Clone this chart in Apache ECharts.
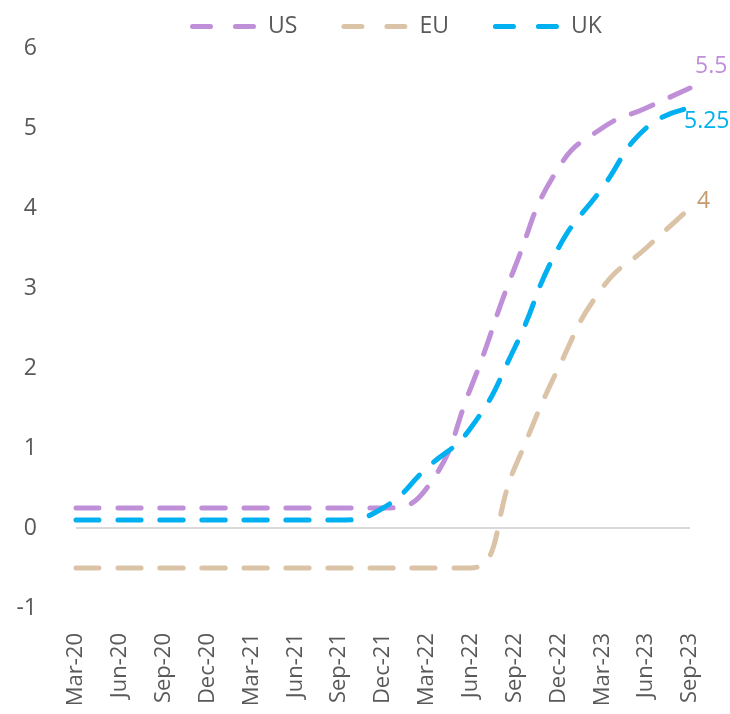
<!DOCTYPE html>
<html>
<head>
<meta charset="utf-8">
<script src="https://cdn.jsdelivr.net/npm/echarts@6/dist/echarts.min.js"></script>
<style>
  html, body { margin: 0; padding: 0; background: #fff; }
  #chart { width: 730px; height: 714px; }
</style>
</head>
<body>
<div id="chart"></div>
<script>
// Quarter-end policy rates (%)
const quarters = ['Mar-20','Jun-20','Sep-20','Dec-20','Mar-21','Jun-21','Sep-21','Dec-21',
                  'Mar-22','Jun-22','Sep-22','Dec-22','Mar-23','Jun-23','Sep-23'];
const usRates = [0.25,0.25,0.25,0.25,0.25,0.25,0.25,0.25,0.5,1.75,3.25,4.5,5.0,5.25,5.5];
const euRates = [-0.5,-0.5,-0.5,-0.5,-0.5,-0.5,-0.5,-0.5,-0.5,-0.5,0.75,2.0,3.0,3.5,4.0];
const ukRates = [0.1,0.1,0.1,0.1,0.1,0.1,0.1,0.25,0.75,1.25,2.25,3.5,4.25,5.0,5.25];
const yTicks = { min: -1, max: 6, step: 1 };

const FONT = '"Open Sans", "Noto Sans", sans-serif';
const COLORS = { US: '#bf8fd7', EU: '#dbc3a8', UK: '#00b0f0' };
const LABEL_COLORS = { US: '#bf8fd7', EU: '#c49a6c', UK: '#00b0f0' };

// Two rounded dashes, used as the legend swatch
const DASH_ICON = 'path://M2.5,0 H20.5 A2.5,2.5 0 0 1 20.5,5 H2.5 A2.5,2.5 0 0 1 2.5,0 Z ' +
                  'M45.5,0 H63.5 A2.5,2.5 0 0 1 63.5,5 H45.5 A2.5,2.5 0 0 1 45.5,0 Z';

function lineSeries(name, values, labelOffset, extra) {
  return Object.assign({
    name: name,
    type: 'line',
    smooth: true,
    symbol: 'none',
    data: values,
    lineStyle: { color: COLORS[name], width: 5, type: [23, 19], cap: 'round' },
    itemStyle: { color: COLORS[name] },
    endLabel: {
      show: true,
      distance: 0,
      offset: labelOffset,
      color: LABEL_COLORS[name],
      fontSize: 23,
      fontFamily: FONT,
      formatter: p => String(p.value)
    },
    z: 3
  }, extra || {});
}

const chart = echarts.init(document.getElementById('chart'), null, { renderer: 'canvas' });
chart.setOption({
  animation: false,
  backgroundColor: '#ffffff',
  legend: {
    top: 10,
    left: 185,
    itemWidth: 66,
    itemHeight: 5,
    itemGap: 44,
    icon: DASH_ICON,
    textStyle: { color: '#595959', fontSize: 23, fontFamily: FONT, padding: [0, 0, 0, 7] },
    data: ['US', 'EU', 'UK']
  },
  grid: { left: 76, right: 40, top: 48, bottom: 106 },
  xAxis: {
    type: 'category',
    data: quarters,
    boundaryGap: false,
    axisLine: { show: false, onZero: false },
    axisTick: { show: false },
    axisLabel: { rotate: 90, margin: 25, color: '#595959', fontSize: 22, fontFamily: FONT }
  },
  yAxis: {
    type: 'value',
    min: yTicks.min,
    max: yTicks.max,
    interval: yTicks.step,
    axisLine: { show: false },
    axisTick: { show: false },
    splitLine: { show: false },
    axisLabel: { margin: 39, color: '#595959', fontSize: 23, fontFamily: FONT }
  },
  series: [
    lineSeries('US', usRates, [5, -22], {
      // zero baseline across the plot
      markLine: {
        silent: true,
        symbol: 'none',
        label: { show: false },
        lineStyle: { color: '#d9d9d9', width: 2, type: 'solid' },
        data: [{ yAxis: 0 }],
        z: 1
      }
    }),
    lineSeries('EU', euRates, [7, -7]),
    lineSeries('UK', ukRates, [-6, 13])
  ]
});
</script>
</body>
</html>
